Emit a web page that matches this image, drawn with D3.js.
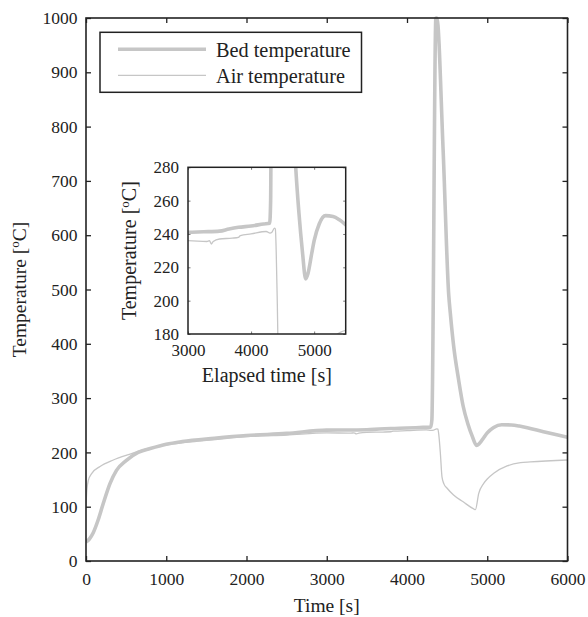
<!DOCTYPE html>
<html><head><meta charset="utf-8">
<script src="https://cdn.jsdelivr.net/npm/d3@7"></script>
<style>body{margin:0;background:#fff}svg{display:block}text{font-family:"Liberation Serif","Times New Roman",serif;fill:#222}</style>
</head><body><svg id="c" width="588" height="617"></svg>
<script>
// Data
const bedTime = [0,40,90,150,215,300,380,500,650,800,1000,1200,1600,2000,2500,3000,3250,3500,3650,3800,4000,4200,4295,4310,4360,4372,4450,4520,4540,4582,4644,4700,4760,4815,4866,4900,4960,5000,5080,5180,5300,5400,5500,5700,6000];
const bedTemp = [35,40,52,75,106,143,167,185,200,207,215,220,226,231,235,241,241.3,241.7,243,244,244.8,246,246.5,260,1000,1000,757,490,456,395,333,285,252,229,213,216,228,236,246,251,250.5,248.5,245.5,238,228];
const airTime = [0,10,30,70,175,340,550,760,1000,1500,2000,2500,3000,3300,3340,3370,3400,3500,3700,3800,3830,4000,4240,4300,4330,4370,4385,4398,4416,4436,4460,4500,4580,4700,4830,4852,4894,4956,5000,5081,5247,5414,5538,6000];
const airTemp = [100,130,149,161,174,186,197,207,214,222,229,232,236,235.5,236,234,235.5,237,237.5,238,239,240,241.5,240.5,241,243.5,243,230,198,155,142,134,121.5,109,96,94.5,124.6,143,151,161.5,175,181,182.5,186];
const mainXTicks = [0,1000,2000,3000,4000,5000,6000];
const mainYTicks = [0,100,200,300,400,500,600,700,800,900,1000];
const insetXTicks = [3000,4000,5000];
const insetYTicks = [180,200,220,240,260,280];
const legendLabels = ["Bed temperature","Air temperature"];

const bed = bedTime.map((t,i)=>[t,bedTemp[i]]);
const air = airTime.map((t,i)=>[t,airTemp[i]]);
const lineColor = "#c6c6c6";
const FF = "'Liberation Serif','Times New Roman',serif";

const svg = d3.select("#c");
const M = {l:86,t:18,r:567.5,b:561};
const x = d3.scaleLinear().domain([0,6000]).range([M.l,M.r]);
const y = d3.scaleLinear().domain([0,1000]).range([M.b,M.t]);

svg.append("defs").append("clipPath").attr("id","cm").append("rect")
  .attr("x",M.l).attr("y",M.t-2).attr("width",M.r-M.l).attr("height",M.b-M.t+2);

const line = d3.line().curve(d3.curveMonotoneX).x(d=>x(d[0])).y(d=>y(d[1]));
const gl = svg.append("g").attr("clip-path","url(#cm)");
gl.append("path").datum(air).attr("d",line).attr("fill","none").attr("stroke",lineColor).attr("stroke-width",1.3);
gl.append("path").datum(bed).attr("d",line).attr("fill","none").attr("stroke",lineColor).attr("stroke-width",3.6).attr("stroke-linejoin","round");

function styleAxis(g, fs, col){
  g.attr("font-family",FF).attr("font-size",fs);
  g.select(".domain").remove();
  g.selectAll(".tick line").attr("stroke",col||"#222").attr("stroke-width",col?1:1.3);
  g.selectAll(".tick text").attr("font-size",fs).attr("font-family",FF).style("font-family",FF).attr("fill","#222");
}
// main axes
const gxb = svg.append("g").attr("transform",`translate(0,${M.b})`)
  .call(d3.axisBottom(x).tickValues(mainXTicks).tickSize(-5).tickPadding(12).tickFormat(d3.format("d")));
styleAxis(gxb,17.5);
const gxt = svg.append("g").attr("transform",`translate(0,${M.t})`)
  .call(d3.axisTop(x).tickValues(mainXTicks).tickSize(-5).tickFormat(""));
styleAxis(gxt,17.5);
const gyl = svg.append("g").attr("transform",`translate(${M.l},0)`)
  .call(d3.axisLeft(y).tickValues(mainYTicks).tickSize(-5).tickPadding(8.5).tickFormat(d3.format("d")));
styleAxis(gyl,17.5);
const gyr = svg.append("g").attr("transform",`translate(${M.r},0)`)
  .call(d3.axisRight(y).tickValues(mainYTicks).tickSize(-5).tickFormat(""));
styleAxis(gyr,17.5);
svg.append("rect").attr("x",M.l).attr("y",M.t).attr("width",M.r-M.l).attr("height",M.b-M.t)
  .attr("fill","none").attr("stroke","#222").attr("stroke-width",1.6);

svg.append("text").attr("x",(M.l+M.r)/2).attr("y",612).attr("text-anchor","middle").attr("font-size",19.5).text("Time [s]");
const yl = svg.append("text").attr("transform",`translate(26,${(M.t+M.b)/2}) rotate(-90)`).attr("text-anchor","middle").attr("font-size",19.5);
yl.append("tspan").text("Temperature [");
yl.append("tspan").attr("font-size",13).attr("dy",-7).text("o");
yl.append("tspan").attr("dy",7).text("C]");

// legend
const lg = svg.append("g");
lg.append("rect").attr("x",100).attr("y",32.3).attr("width",261.5).attr("height",60).attr("fill","#fff").attr("stroke","#222").attr("stroke-width",1.5);
const lw = [3.6,1.3];
legendLabels.forEach((lab,i)=>{
  const yy = 49.3 + i*26;
  lg.append("line").attr("x1",118).attr("x2",206).attr("y1",yy).attr("y2",yy).attr("stroke",lineColor).attr("stroke-width",lw[i]);
  lg.append("text").attr("x",216).attr("y",yy+7.2).attr("font-size",20.3).text(lab);
});

// inset
const I = {l:188,t:167.3,r:345.7,b:334};
const xi = d3.scaleLinear().domain([3000,5500]).range([I.l,I.r]);
const yi = d3.scaleLinear().domain([180,280]).range([I.b,I.t]);
svg.append("rect").attr("x",I.l).attr("y",I.t).attr("width",I.r-I.l).attr("height",I.b-I.t).attr("fill","#fff");
svg.select("defs").append("clipPath").attr("id","ci").append("rect")
  .attr("x",I.l).attr("y",I.t).attr("width",I.r-I.l).attr("height",I.b-I.t);
const linei = d3.line().curve(d3.curveMonotoneX).x(d=>xi(d[0])).y(d=>yi(d[1]));
const gi = svg.append("g").attr("clip-path","url(#ci)");
gi.append("path").datum(air).attr("d",linei).attr("fill","none").attr("stroke",lineColor).attr("stroke-width",1.3);
gi.append("path").datum(bed).attr("d",linei).attr("fill","none").attr("stroke",lineColor).attr("stroke-width",3.6).attr("stroke-linejoin","round");

const ixb = svg.append("g").attr("transform",`translate(0,${I.b})`)
  .call(d3.axisBottom(xi).tickValues(insetXTicks).tickSize(-2.5).tickPadding(10).tickFormat(d3.format("d")));
styleAxis(ixb,17,"#777");
const ixt = svg.append("g").attr("transform",`translate(0,${I.t})`)
  .call(d3.axisTop(xi).tickValues(insetXTicks).tickSize(-2.5).tickFormat(""));
styleAxis(ixt,17,"#777");
const iyl = svg.append("g").attr("transform",`translate(${I.l},0)`)
  .call(d3.axisLeft(yi).tickValues(insetYTicks).tickSize(-2.5).tickPadding(9).tickFormat(d3.format("d")));
styleAxis(iyl,17,"#777");
const iyr = svg.append("g").attr("transform",`translate(${I.r},0)`)
  .call(d3.axisRight(yi).tickValues(insetYTicks).tickSize(-2.5).tickFormat(""));
styleAxis(iyr,17,"#777");
svg.append("rect").attr("x",I.l).attr("y",I.t).attr("width",I.r-I.l).attr("height",I.b-I.t)
  .attr("fill","none").attr("stroke","#222").attr("stroke-width",1.5);
svg.append("text").attr("x",(I.l+I.r)/2).attr("y",381.5).attr("text-anchor","middle").attr("font-size",20).text("Elapsed time [s]");
const iyl2 = svg.append("text").attr("transform",`translate(136,${(I.t+I.b)/2}) rotate(-90)`).attr("text-anchor","middle").attr("font-size",20);
iyl2.append("tspan").text("Temperature [");
iyl2.append("tspan").attr("font-size",13).attr("dy",-7).text("o");
iyl2.append("tspan").attr("dy",7).text("C]");
</script></body></html>
